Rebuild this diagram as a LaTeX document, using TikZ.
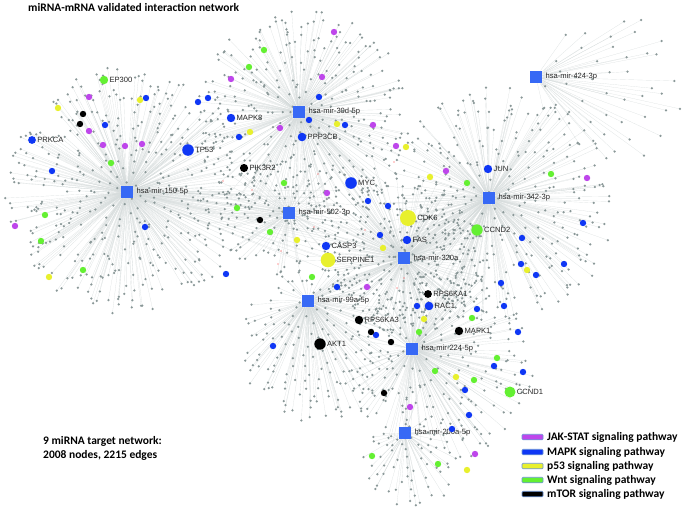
\documentclass[tikz,border=0pt]{standalone}
\usepackage{fontspec}
\setmainfont{Liberation Sans}
\newfontfamily\calib{Carlito}
\definecolor{hubblue}{RGB}{55,105,245}
\definecolor{pblue}{RGB}{15,55,245}
\definecolor{ppurple}{RGB}{190,70,235}
\definecolor{pyellow}{RGB}{232,240,45}
\definecolor{pgreen}{RGB}{100,240,50}
\definecolor{dotgray}{RGB}{138,152,152}
\definecolor{edgegray}{RGB}{214,220,220}
\definecolor{lgborder}{RGB}{110,150,215}
\pgfdeclarelayer{bg}
\pgfdeclarelayer{edges}
\pgfdeclarelayer{dots}
\pgfsetlayers{bg,edges,dots,main}
\tikzset{
  edge/.style={draw=edgegray, line width=0.15pt},
  dot/.style={fill=dotgray},
  hub/.style={rectangle, fill=hubblue, minimum size=12.5pt, inner sep=0pt},
  cd/.style={circle, inner sep=0pt, minimum size=6.4pt},
  cpur/.style={cd, fill=ppurple},
  cblu/.style={cd, fill=pblue},
  cyel/.style={cd, fill=pyellow},
  cgrn/.style={cd, fill=pgreen},
  cblk/.style={cd, fill=black},
  lbl/.style={font=\fontsize{7.6}{8}\selectfont, text=black!85, inner sep=1pt},
  gene/.style={circle, inner sep=0pt, label distance=1pt},
  hublbl/.style={label={[lbl, label distance=2pt]right:#1}},
  lgbar/.style={rectangle, rounded corners=1pt, minimum width=21pt, minimum height=5.5pt, inner sep=0pt, draw=lgborder, line width=0.7pt},
  lgtxt/.style={font=\calib\bfseries\fontsize{11.5}{13}\selectfont, anchor=west, inner sep=0pt},
}
% sunflower layout with jitter: hub, cx, cy, R, N, prefix
\newcommand\mkcl[6]{%
  \foreach \i in {1,...,#5}{%
    \pgfmathsetmacro\myrad{#4*sqrt((\i-0.5)/#5)}%
    \pgfmathsetmacro\myfr{\i*0.381966-floor(\i*0.381966)}%
    \pgfmathsetmacro\myang{360*\myfr+14*rand}%
    \pgfmathsetmacro\myjx{2.2*rand}%
    \pgfmathsetmacro\myjy{2.2*rand}%
    \coordinate (#6\i) at ({#2+\myrad*cos(\myang)+\myjx},{#3+\myrad*sin(\myang)+\myjy});
    \draw[edge] (#1) -- (#6\i);
  }}
\newcommand\mksh[7]{%
  \foreach \i in {1,...,#6}{%
    \pgfmathsetmacro\myrad{#5*sqrt((\i-0.5)/#6)}%
    \pgfmathsetmacro\myfr{\i*0.381966-floor(\i*0.381966)}%
    \pgfmathsetmacro\myang{360*\myfr+10*rand}%
    \coordinate (#7\i) at ({#3+\myrad*cos(\myang)},{#4+\myrad*sin(\myang)});
    \draw[edge] (#1) -- (#7\i) -- (#2);
  }}
\newcommand\dotcl[2]{\foreach \i in {1,...,#2}{\fill[dot] (#1\i) circle (1.25pt);}}
\begin{document}
\begin{tikzpicture}[x=1pt,y=-1pt]
\begin{pgfonlayer}{bg}
\fill[white] (0,0) rectangle (685,514);
\end{pgfonlayer}
\useasboundingbox (0,0) rectangle (685,514);
\pgfmathsetseed{4242}
% hubs
\node[hub, hublbl=hsa-mir-150-5p] (h150) at (127,192) {};
\node[hub, hublbl=hsa-mir-30d-5p] (h30d) at (299,112) {};
\node[hub, hublbl=hsa-mir-424-3p] (h424) at (536,77) {};
\node[hub, hublbl=hsa-mir-502-3p] (h502) at (289,213) {};
\node[hub, hublbl=hsa-mir-342-3p] (h342) at (489,198) {};
\node[hub, hublbl=hsa-mir-320a] (h320) at (404,258) {};
\node[hub, hublbl=hsa-mir-99a-5p] (h99a) at (308,301) {};
\node[hub, hublbl=hsa-mir-224-5p] (h224) at (412,349) {};
\node[hub, hublbl=hsa-mir-200a-5p] (h200a) at (405,433) {};
% edges and target positions
\begin{pgfonlayer}{edges}
\mkcl{h150}{127}{190}{122}{430}{a}
\mkcl{h30d}{303}{118}{108}{330}{b}
\mkcl{h342}{497}{205}{118}{320}{c}
\mkcl{h320}{405}{258}{82}{250}{d}
\mkcl{h502}{280}{215}{62}{110}{e}
\mkcl{h99a}{318}{345}{78}{170}{f}
\mkcl{h224}{440}{365}{95}{210}{g}
\mkcl{h200a}{410}{462}{48}{60}{k}
\mkcl{h424}{612}{88}{75}{45}{m}
\mksh{h150}{h320}{330}{232}{45}{25}{s}
\mksh{h320}{h342}{448}{228}{25}{25}{t}
\mksh{h320}{h99a}{355}{282}{20}{12}{u}
\mksh{h320}{h224}{410}{305}{20}{12}{v}
\mksh{h30d}{h320}{360}{180}{30}{12}{w}
\mksh{h502}{h150}{212}{205}{25}{10}{x}
\mksh{h342}{h224}{462}{282}{25}{10}{y}
\mksh{h224}{h200a}{410}{395}{15}{6}{z}
\end{pgfonlayer}
\begin{pgfonlayer}{dots}
\dotcl{a}{430}\dotcl{b}{330}\dotcl{c}{320}\dotcl{d}{250}\dotcl{e}{110}
\dotcl{f}{170}\dotcl{g}{210}\dotcl{k}{60}\dotcl{m}{45}
\dotcl{s}{25}\dotcl{t}{25}\dotcl{u}{12}\dotcl{v}{12}\dotcl{w}{12}
\dotcl{x}{10}\dotcl{y}{10}\dotcl{z}{6}
\foreach \x/\y [count=\k] in {223/181,318/174,314/227,281/251,278/264,404/278,397/288,394/162,252/190,365/230}
  \fill[red!80] (\x,\y) circle (0.6pt) coordinate (red\k);
\end{pgfonlayer}
% pathway genes (small)
\foreach \x/\y [count=\k] in {89/97,89/131,103/145,125/146,142/144,15/226,231/79,322/77,373/125,280/128,396/146,327/193,446/171,367/287,410/407,587/178,334/32,475/454}
  \node[cpur] (pu\k) at (\x,\y) {};
\foreach \x/\y [count=\k] in {146/98,105/125,52/171,145/227,198/102,208/98,319/97,309/120,345/125,239/137,368/201,388/206,380/235,226/274,337/287,417/306,477/309,504/306,501/283,376/335,273/346,518/332,494/366,523/372,465/390,469/415,452/429,583/223,522/238,521/264,536/275,564/264}
  \node[cblu] (bl\k) at (\x,\y) {};
\foreach \x/\y [count=\k] in {58/108,140/100,337/124,250/132,406/147,430/177,297/240,383/248,424/319,456/377,527/270,49/277,467/470}
  \node[cyel] (ye\k) at (\x,\y) {};
\foreach \x/\y [count=\k] in {264/50,249/67,111/163,45/215,41/241,83/270,237/208,284/183,467/183,551/174,270/232,312/277,472/318,419/332,497/358,435/371,474/380,438/464,372/456}
  \node[cgrn] (gr\k) at (\x,\y) {};
\foreach \x/\y [count=\k] in {83/114,80/124,260/220,371/332,391/342,384/393}
  \node[cblk] (bk\k) at (\x,\y) {};
% labelled pathway genes
\node[gene, fill=pgreen, minimum size=8.4pt, label={[lbl]right:EP300}] (ep300) at (104,80) {};
\node[gene, fill=pblue, minimum size=7.8pt, label={[lbl]right:PRKCA}] (prkca) at (32,140) {};
\node[gene, fill=pblue, minimum size=11.6pt, label={[lbl]right:TP53}] (tp53) at (188,150) {};
\node[gene, fill=pblue, minimum size=8.4pt, label={[lbl]right:MAPK8}] (mapk8) at (231,118) {};
\node[gene, fill=pblue, minimum size=8.6pt, label={[lbl]right:PPP3CB}] (ppp3cb) at (302,137) {};
\node[gene, fill=black, minimum size=8.2pt, label={[lbl]right:PIK3R2}] (pik3r2) at (244,168) {};
\node[gene, fill=pblue, minimum size=11.6pt, label={[lbl]right:MYC}] (myc) at (351,183) {};
\node[gene, fill=pyellow, minimum size=16pt, label={[lbl]right:CDK6}] (cdk6) at (408,218) {};
\node[gene, fill=pblue, minimum size=8.4pt, label={[lbl]right:FAS}] (fas) at (407,240) {};
\node[gene, fill=pblue, minimum size=8.4pt, label={[lbl]right:CASP3}] (casp3) at (326,246) {};
\node[gene, fill=pyellow, minimum size=14.6pt, label={[lbl]right:SERPINE1}] (serpine1) at (328,260) {};
\node[gene, fill=pblue, minimum size=8.4pt, label={[lbl]right:JUN}] (jun) at (488,169) {};
\node[gene, fill=pgreen, minimum size=11.4pt, label={[lbl]right:CCND2}] (ccnd2) at (477,230) {};
\node[gene, fill=black, minimum size=7.8pt, label={[lbl]right:RPS6KA1}] (rps6ka1) at (428,294) {};
\node[gene, fill=pblue, minimum size=8.6pt, label={[lbl]right:RAC1}] (rac1) at (429,306) {};
\node[gene, fill=black, minimum size=8.4pt, label={[lbl]right:RPS6KA3}] (rps6ka3) at (359,320) {};
\node[gene, fill=black, minimum size=8.4pt, label={[lbl]right:MAPK1}] (mapk1) at (459,331) {};
\node[gene, fill=black, minimum size=11.4pt, label={[lbl]right:AKT1}] (akt1) at (320,344) {};
\node[gene, fill=pgreen, minimum size=11pt, label={[lbl]right:CCND1}] (ccnd1) at (510,392) {};
% texts
\node[lgtxt] (title) at (28,7) {miRNA-mRNA validated interaction network};
\node[lgtxt] (info1) at (43,441) {9 miRNA target network:};
\node[lgtxt] (info2) at (43,455) {2008 nodes, 2215 edges};
% legend
\node[lgbar, fill=ppurple] (lb1) at (532.5,437) {};
\node[lgbar, fill=pblue] (lb2) at (532.5,452) {};
\node[lgbar, fill=pyellow] (lb3) at (532.5,466) {};
\node[lgbar, fill=pgreen] (lb4) at (532.5,480) {};
\node[lgbar, fill=black] (lb5) at (532.5,494) {};
\node[lgtxt] (lt1) at (547,437) {JAK-STAT signaling pathway};
\node[lgtxt] (lt2) at (547,452) {MAPK signaling pathway};
\node[lgtxt] (lt3) at (547,466) {p53 signaling pathway};
\node[lgtxt] (lt4) at (547,480) {Wnt signaling pathway};
\node[lgtxt] (lt5) at (547,494) {mTOR signaling pathway};
\end{tikzpicture}
\end{document}
